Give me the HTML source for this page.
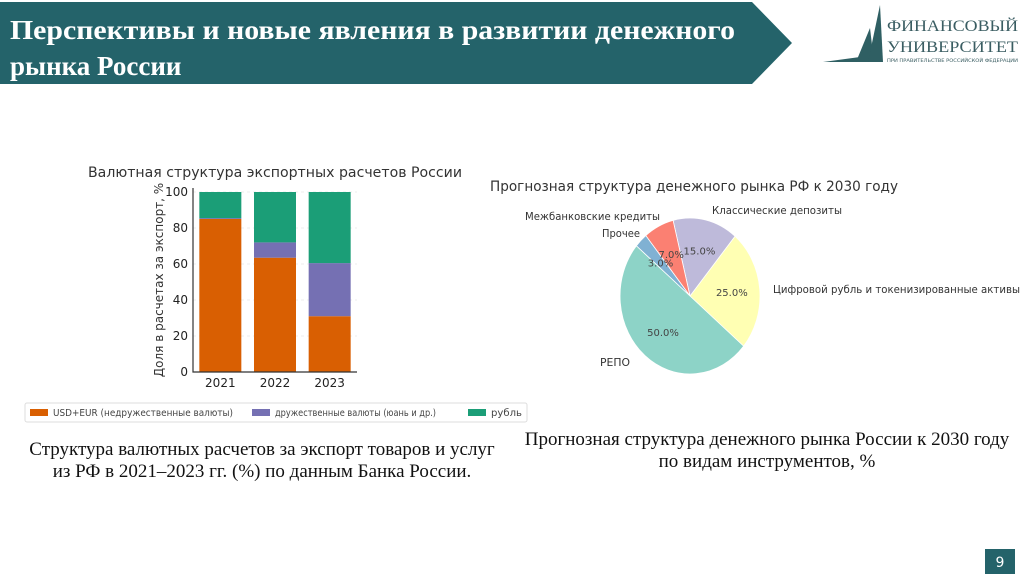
<!DOCTYPE html>
<html><head><meta charset="utf-8"><style>
body{margin:0;width:1024px;height:574px;background:#fff;overflow:hidden;position:relative;font-family:"DejaVu Sans","Liberation Sans",sans-serif}
.abs{position:absolute}
.cap{font-family:"Liberation Serif",serif;font-size:19px;color:#111;text-align:center;line-height:22px;white-space:nowrap}
</style></head><body>
<svg class="abs" style="left:0;top:0" width="1024" height="574">
<polygon points="0,2 752,2 792,43 752,84 0,84" fill="#24636a"/>
<text x="10" y="39" font-family="Liberation Serif,serif" font-weight="bold" font-size="27" textLength="725" lengthAdjust="spacingAndGlyphs" fill="#fff">Перспективы и новые явления в развитии денежного</text>
<text x="10" y="75" font-family="Liberation Serif,serif" font-weight="bold" font-size="27" fill="#fff">рынка России</text>
<g>
<polygon points="823,62 860,57 872,45 858,62" fill="#2f5f63"/>
<polygon points="856,62 870,28 874,62" fill="#2f5f63"/>
<polygon points="868,62 880,5 883,62" fill="#2f5f63"/>
<text x="887" y="31" font-family="Liberation Serif,serif" font-size="16" textLength="131" lengthAdjust="spacingAndGlyphs" fill="#3a5d62">ФИНАНСОВЫЙ</text>
<text x="887" y="52" font-family="Liberation Serif,serif" font-size="16" textLength="131" lengthAdjust="spacingAndGlyphs" fill="#3a5d62">УНИВЕРСИТЕТ</text>
<text x="887" y="62" font-size="4" textLength="131" lengthAdjust="spacingAndGlyphs" fill="#3a5d62">ПРИ ПРАВИТЕЛЬСТВЕ РОССИЙСКОЙ ФЕДЕРАЦИИ</text>
</g>
<rect x="985" y="549" width="30" height="25" fill="#24636a"/>
<text x="1000" y="567" text-anchor="middle" font-size="14" fill="#fff">9</text>
<g id="bar"></g>
<g id="pie"></g>
</svg>
<div class="abs cap" style="left:12px;top:439px;width:500px">Структура валютных расчетов за экспорт товаров и услуг<br>из РФ в 2021–2023 гг. (%) по данным Банка России.</div>
<div class="abs cap" style="left:512px;top:429px;width:510px">Прогнозная структура денежного рынка России к 2030 году<br>по видам инструментов, %</div>
<script>
const years=["2021","2022","2023"];
const usdEur=[85,63.5,31];
const friendly=[0.5,8.5,29.5];
const ruble=[14.5,28,39.5];
const yTicks=[0,20,40,60,80,100];
const seriesNames=["USD+EUR (недружественные валюты)","дружественные валюты (юань и др.)","рубль"];
const seriesColors=["#d95f02","#7570b3","#1b9e77"];
const pieLabels=["Цифровой рубль и токенизированные активы","Классические депозиты","Межбанковские кредиты","Прочее","РЕПО"];
const pieValues=[25,15,7,3,50];
const pieColors=["#ffffb3","#bebada","#fb8072","#80b1d3","#8dd3c7"];
const NS="http://www.w3.org/2000/svg";
function mk(p,t,a,txt){const e=document.createElementNS(NS,t);for(const k in a)e.setAttribute(k,a[k]);if(txt!==undefined)e.textContent=txt;p.appendChild(e);return e;}
const bg=document.getElementById('bar');
const x0=193,x1=357,yb=372,yt=192;
const ys=v=>yb-(v/100)*(yb-yt);
const band=(x1-x0)/years.length, bw=42;
const xc=i=>x0+band*(i+0.5);
let t=mk(bg,'text',{x:88,y:177,'font-size':14.5,fill:'#333',textLength:374,lengthAdjust:'spacingAndGlyphs'},'Валютная структура экспортных расчетов России');


yTicks.forEach(v=>{
 const g=mk(bg,'line',{x1:x0,x2:x1,y1:ys(v),y2:ys(v),stroke:'#eee','stroke-dasharray':'3,3'});
 
 
 const l=mk(bg,'text',{x:x0-5,y:ys(v)+4,'text-anchor':'end','font-size':12,fill:'#222'},String(v));
 
 
});
const series=[usdEur,friendly,ruble];
years.forEach((yr,i)=>{
 let acc=0;
 series.forEach((s,j)=>{
  const r=mk(bg,'rect',{x:xc(i)-bw/2,y:ys(acc+s[i]),width:bw,height:ys(acc)-ys(acc+s[i]),fill:seriesColors[j]});
  
  
  acc+=s[i];
 });
 const l=mk(bg,'text',{x:xc(i),y:yb+15,'text-anchor':'middle','font-size':12,fill:'#222'},yr);
 
 
});
let ax=mk(bg,'path',{d:`M${x0} ${yt-4}V${yb}H${x1}`,stroke:'#333',fill:'none','stroke-width':1.2});


let yl=mk(bg,'text',{transform:'translate(163,280) rotate(-90)','text-anchor':'middle','font-size':12,fill:'#333'},'Доля в расчетах за экспорт, %');


let lb=mk(bg,'rect',{x:25,y:403,width:502,height:19,fill:'#fff',stroke:'#ddd',rx:2});


const lx=[30,252,468];
const lw=[180,161,31];
seriesNames.forEach((n,j)=>{
 const r=mk(bg,'rect',{x:lx[j],y:409,width:18,height:7,fill:seriesColors[j]});
 
 
 const tt=mk(bg,'text',{x:lx[j]+23,y:416,'font-size':9.5,fill:'#444',textLength:lw[j],lengthAdjust:'spacingAndGlyphs'},n);
 
 
});
const pg=document.getElementById('pie');
let pt=mk(pg,'text',{x:490,y:191,'font-size':14.5,fill:'#333',textLength:408,lengthAdjust:'spacingAndGlyphs'},'Прогнозная структура денежного рынка РФ к 2030 году');


const cx=690,cy=296,rx=70,ry=78,start=-40;
const tot=pieValues.reduce((a,b)=>a+b,0);
const labPos=[[773,293,'start',247],[712,214,'start',130],[660,220,'end',135],[640,237,'end',38],[630,366,'end',30]];
let a=start;
pieValues.forEach((v,i)=>{
 const a2=a+v/tot*360, r1=a*Math.PI/180, r2=a2*Math.PI/180;
 const p1=[cx+rx*Math.cos(r1),cy-ry*Math.sin(r1)], p2=[cx+rx*Math.cos(r2),cy-ry*Math.sin(r2)];
 const large=(a2-a)>180?1:0;
 const s=mk(pg,'path',{d:`M${cx} ${cy}L${p1[0]} ${p1[1]}A${rx} ${ry} 0 ${large} 0 ${p2[0]} ${p2[1]}Z`,fill:pieColors[i],stroke:'#fff','stroke-width':0.8});
 
 
 a=a2;
});
a=start;
pieValues.forEach((v,i)=>{
 const a2=a+v/tot*360, m=(a+a2)/2*Math.PI/180;
 const pl=mk(pg,'text',{x:cx+0.6*rx*Math.cos(m),y:cy-0.6*ry*Math.sin(m)+4,'text-anchor':'middle','font-size':10,fill:'#444'},v.toFixed(1)+'%');
 
 
 const L=labPos[i];
 const nl=mk(pg,'text',{x:L[0],y:L[1],'text-anchor':L[2],'font-size':11,fill:'#333',textLength:L[3],lengthAdjust:'spacingAndGlyphs'},pieLabels[i]);
 
 
 a=a2;
});
</script>
</body></html>
